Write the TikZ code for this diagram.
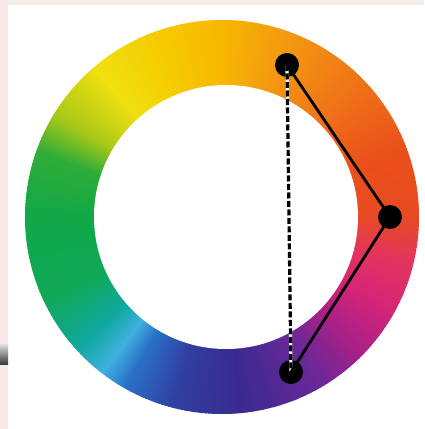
\documentclass[tikz,border=0pt]{standalone}
\usetikzlibrary{calc}
\definecolor{k0}{HTML}{E84A22}
\definecolor{k20}{HTML}{EA501A}
\definecolor{k45}{HTML}{F07418}
\definecolor{k70}{HTML}{F39A10}
\definecolor{k90}{HTML}{F7B800}
\definecolor{k110}{HTML}{F5CC00}
\definecolor{k130}{HTML}{F0E010}
\definecolor{k148}{HTML}{A8C818}
\definecolor{k160}{HTML}{30AC38}
\definecolor{k180}{HTML}{10A848}
\definecolor{k205}{HTML}{10A858}
\definecolor{k222}{HTML}{10A8A0}
\definecolor{k232}{HTML}{40B0E0}
\definecolor{k240}{HTML}{2A70C8}
\definecolor{k255}{HTML}{3040A0}
\definecolor{k275}{HTML}{3A2A90}
\definecolor{k300}{HTML}{6A2898}
\definecolor{k315}{HTML}{A82088}
\definecolor{k330}{HTML}{D42478}
\definecolor{k345}{HTML}{E23460}
\definecolor{k360}{HTML}{E84A22}
\definecolor{topstrip}{HTML}{F7EDE8}
\definecolor{leftstrip}{HTML}{F8E8E8}
\tikzset{
  dot/.style={circle,fill=black,minimum size=24pt,inner sep=0pt},
  solidedge/.style={black,line width=2.8pt,line cap=round},
  hatchedge/.style={black,line width=3.2pt,dash pattern=on 6pt off 2.5pt},
}
\begin{document}
\begin{tikzpicture}[x=1pt,y=1pt]
\useasboundingbox (0,0) rectangle (424,429);
\fill[white] (0,0) rectangle (424,429);
\fill[topstrip] (0,424) rectangle (424,429);
\fill[leftstrip] (0,0) rectangle (8,429);
\shade[top color=gray!30,bottom color=black!80] (0,64) rectangle (8,84);
\coordinate (O) at (222,212);
\foreach \a/\b/\ca/\cb in {0/20/k0/k20,20/45/k20/k45,45/70/k45/k70,70/90/k70/k90,90/110/k90/k110,110/130/k110/k130,130/148/k130/k148,148/160/k148/k160,160/180/k160/k180,180/205/k180/k205,205/222/k205/k222,222/232/k222/k232,232/240/k232/k240,240/255/k240/k255,255/275/k255/k275,275/300/k275/k300,300/315/k300/k315,315/330/k315/k330,330/345/k330/k345,345/360/k345/k360}{
  \pgfmathtruncatemacro\n{\b-\a-1}
  \foreach \t in {0,...,\n}{
    \pgfmathtruncatemacro\p{100*\t/(\b-\a)}
    \pgfmathsetmacro\s{\a+\t}
    \fill[color=\cb!\p!\ca] (O) -- ++(\s:197) arc[start angle=\s, end angle=\s+1.4, radius=197] -- cycle;
  }
}
\fill[white] (226,212) circle[radius=132];
\node[dot] (A) at (287,364) {};
\node[dot] (B) at (390,212) {};
\node[dot] (C) at (291,57) {};
\draw[white,line width=3.2pt] (A.center) -- (C.center);
\draw[hatchedge] (A.center) -- (C.center);
\draw[solidedge] (A.center) -- (B.center) -- (C.center);
\end{tikzpicture}
\end{document}
